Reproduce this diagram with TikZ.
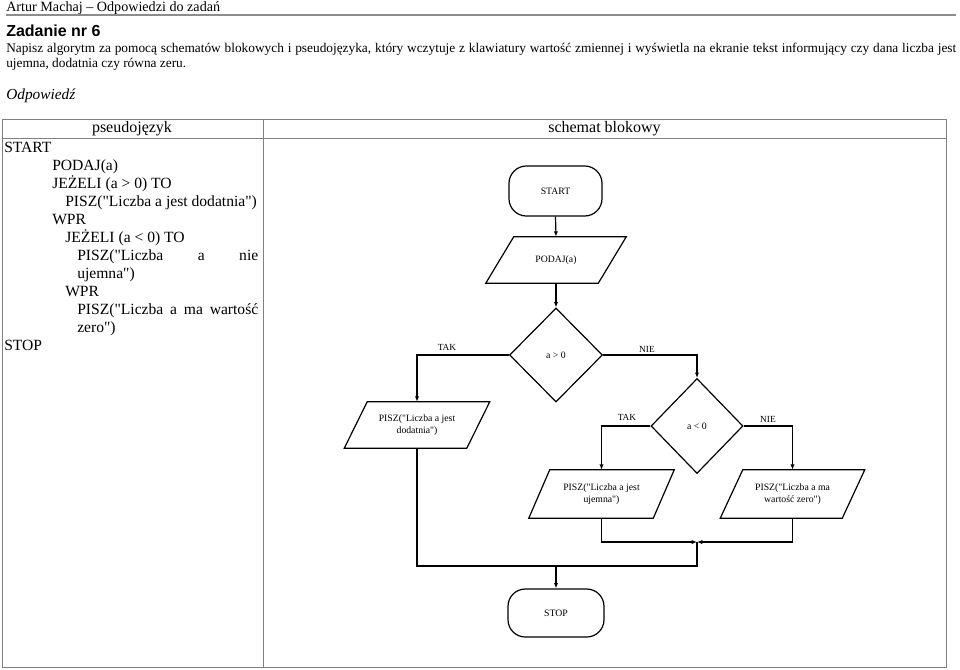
\documentclass[tikz,border=0pt]{standalone}
\usepackage{fontspec}
\setmainfont{Liberation Serif}
\newfontfamily\arialfont{Liberation Sans}
\usetikzlibrary{shapes.geometric,arrows.meta}
\definecolor{tblgray}{RGB}{128,128,128}
\definecolor{rulegray}{RGB}{140,140,140}
\newcommand\qd{\textquotedbl}
\newcommand\drawpara[2]{\draw[flow] ([xshift=#2/2]#1.north west) -- ([xshift=#2/2]#1.north east) -- ([xshift=-#2/2]#1.south east) -- ([xshift=-#2/2]#1.south west) -- cycle;}
\begin{document}
\begin{tikzpicture}[x=0.75pt,y=-0.75pt,
  tbl/.style={draw=tblgray, line width=0.75pt},
  flow/.style={draw=black, line width=0.9pt},
  arr/.style={flow, -{Latex[length=4pt,width=3.2pt]}},
  fc/.style={font=\fontsize{7.3}{8.5}\selectfont},
  term/.style={fc, draw, line width=0.9pt, rounded corners=13pt, inner sep=0pt},
  dec/.style={fc, diamond, draw, line width=0.9pt, inner sep=0pt},
  iobox/.style={fc, inner sep=0pt, align=center},
  lbl/.style={font=\fontsize{7}{8}\selectfont, inner sep=0pt},
  code/.style={anchor=base west, inner sep=0pt, font=\fontsize{11.7}{14}\selectfont},
  txt/.style={anchor=base west, inner sep=0pt}]
\useasboundingbox (0,0) rectangle (960,669);

% page header
\node[txt, font=\fontsize{10.6}{12}\selectfont] (hdr) at (6,11) {Artur Machaj – Odpowiedzi do zadań};
\draw[draw=rulegray, line width=1.2pt] (6,15) -- (956,15);
\node[txt, font=\arialfont\bfseries\fontsize{12}{14}\selectfont] (title) at (6,36) {Zadanie nr 6};
\node[txt, font=\fontsize{10}{12}\selectfont] (body1) at (6,52) {\makebox[712.5pt][s]{Napisz algorytm za pomocą schematów blokowych i pseudojęzyka, który wczytuje z klawiatury wartość zmiennej i wyświetla na ekranie tekst informujący czy dana liczba jest}};
\node[txt, font=\fontsize{10}{12}\selectfont] (body2) at (6,67) {ujemna, dodatnia czy równa zeru.};
\node[txt, font=\itshape\fontsize{11.5}{13}\selectfont] (odp) at (6,99) {Odpowiedź};

% table
\draw[tbl] (2,119) rectangle (946,667);
\draw[tbl] (263,119) -- (263,667);
\draw[tbl] (2,138) -- (946,138);
\node[font=\fontsize{12}{14}\selectfont, inner sep=0pt] (hpseudo) at (132,129) {pseudojęzyk};
\node[font=\fontsize{12}{14}\selectfont, inner sep=0pt] (hschemat) at (604.5,129) {schemat blokowy};

% pseudocode
\node[code] (c1) at (4,152) {START};
\node[code] (c2) at (52,170) {PODAJ(a)};
\node[code] (c3) at (52,188) {JEŻELI (a > 0) TO};
\node[code] (c4) at (65,206) {PISZ(\qd Liczba a jest dodatnia\qd)};
\node[code] (c5) at (52,224) {WPR};
\node[code] (c6) at (65,242) {JEŻELI (a < 0) TO};
\node[code] (c7) at (77,260) {\makebox[135.75pt][s]{PISZ(\qd Liczba a nie}};
\node[code] (c8) at (77,278) {ujemna\qd)};
\node[code] (c9) at (65,296) {WPR};
\node[code] (c10) at (77,314) {\makebox[135.75pt][s]{PISZ(\qd Liczba a ma wartość}};
\node[code] (c11) at (77,332) {zero\qd)};
\node[code] (c12) at (4,350) {STOP};

% flowchart nodes
\node[term, minimum width=69.75pt, minimum height=37.5pt] (start) at (555.5,191) {START};
\node[iobox, minimum width=84pt, minimum height=34.5pt] (podaj) at (556,260) {PODAJ(a)};
\drawpara{podaj}{21pt}
\node[dec, minimum width=69.75pt, minimum height=70.5pt] (d1) at (556,355) {a > 0};
\node[iobox, minimum width=91.5pt, minimum height=34.5pt] (pd) at (417,425) {PISZ(\qd Liczba a jest\\dodatnia\qd)};
\drawpara{pd}{17.25pt}
\node[dec, minimum width=69pt, minimum height=71.25pt] (d2) at (697,426) {a < 0};
\node[iobox, minimum width=93pt, minimum height=36pt] (pu) at (601.5,494) {PISZ(\qd Liczba a jest\\ujemna\qd)};
\drawpara{pu}{15.75pt}
\node[iobox, minimum width=91.1pt, minimum height=36pt] (pz) at (792.5,494) {PISZ(\qd Liczba a ma\\wartość zero\qd)};
\drawpara{pz}{16.9pt}
\node[term, minimum width=72pt, minimum height=36pt] (stop) at (556,613) {STOP};

% branch labels
\node[lbl] (tak1) at (447,347) {TAK};
\node[lbl] (nie1) at (647,349) {NIE};
\node[lbl] (tak2) at (627,417) {TAK};
\node[lbl] (nie2) at (768,419) {NIE};

% connectors
\coordinate (m1) at (697,542);
\coordinate (m2) at (697,566);
\draw[arr] (start.south) -- (podaj.north);
\draw[arr] (podaj.south) -- (d1.north);
\draw[arr] (d1.west) -| (pd.north);
\draw[arr] (d1.east) -| (d2.north);
\draw[arr] (d2.west) -| (pu.north);
\draw[arr] (d2.east) -| (pz.north);
\draw[arr] (pu.south) |- (m1);
\draw[arr] (pz.south) |- (m1);
\draw[flow] (pd.south) |- (m2) -- (m1);
\draw[arr] (stop.north |- m2) -- (stop.north);
\end{tikzpicture}
\end{document}
